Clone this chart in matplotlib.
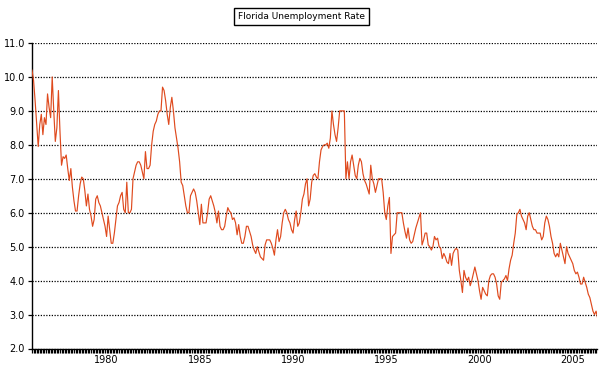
import numpy as np
import matplotlib
matplotlib.use("Agg")
import matplotlib.pyplot as plt
from matplotlib.ticker import MultipleLocator, FixedLocator

# monthly Florida unemployment rate (%), Jan 1976 - May 2006
rate_1976 = [10.2, 9.9, 9.3, 8.6, 7.95, 8.6, 8.9, 8.3, 8.8, 8.6, 9.5, 9.1]
rate_1977 = [8.8, 10.0, 9.0, 8.1, 8.5, 9.6, 8.4, 7.4, 7.65, 7.6, 7.7, 7.3]
rate_1978 = [6.95, 7.3, 6.75, 6.35, 6.05, 6.05, 6.5, 6.85, 7.05, 7.0, 6.65, 6.2]
rate_1979 = [6.55, 6.1, 5.9, 5.6, 5.8, 6.4, 6.5, 6.3, 6.2, 6.0, 5.8, 5.6]
rate_1980 = [5.3, 5.9, 5.5, 5.1, 5.1, 5.4, 5.8, 6.2, 6.3, 6.5, 6.6, 6.1]
rate_1981 = [6.0, 6.9, 6.0, 6.0, 6.1, 7.0, 7.2, 7.4, 7.5, 7.5, 7.4, 7.2]
rate_1982 = [7.0, 7.8, 7.3, 7.3, 7.4, 8.0, 8.4, 8.6, 8.7, 8.9, 9.0, 9.0]
rate_1983 = [9.7, 9.6, 9.3, 8.9, 8.6, 9.1, 9.4, 9.0, 8.5, 8.2, 7.9, 7.5]
rate_1984 = [6.9, 6.8, 6.5, 6.2, 6.0, 6.0, 6.5, 6.6, 6.7, 6.6, 6.35, 6.0]
rate_1985 = [5.65, 6.25, 5.7, 5.7, 5.7, 6.0, 6.4, 6.5, 6.35, 6.2, 6.0, 5.7]
rate_1986 = [6.05, 5.6, 5.5, 5.5, 5.6, 5.9, 6.15, 6.05, 6.0, 5.8, 5.85, 5.7]
rate_1987 = [5.35, 5.65, 5.3, 5.1, 5.1, 5.3, 5.6, 5.6, 5.45, 5.3, 5.05, 4.9]
rate_1988 = [4.8, 5.0, 4.85, 4.7, 4.65, 4.6, 5.05, 5.2, 5.2, 5.2, 5.1, 4.95]
rate_1989 = [4.75, 5.2, 5.5, 5.15, 5.3, 5.7, 6.0, 6.1, 6.0, 5.8, 5.7, 5.5]
rate_1990 = [5.4, 5.8, 6.05, 5.6, 5.7, 6.0, 6.4, 6.55, 6.85, 7.0, 6.2, 6.4]
rate_1991 = [6.9, 7.1, 7.15, 7.05, 7.0, 7.5, 7.85, 7.95, 8.0, 8.0, 8.05, 7.9]
rate_1992 = [8.2, 9.0, 8.6, 8.3, 8.1, 8.5, 9.0, 9.0, 9.0, 9.0, 7.0, 7.5]
rate_1993 = [7.0, 7.5, 7.7, 7.4, 7.1, 7.0, 7.4, 7.6, 7.5, 7.15, 6.95, 6.85]
rate_1994 = [6.7, 6.55, 7.4, 7.0, 6.85, 6.6, 6.8, 7.0, 7.0, 7.0, 6.6, 6.0]
rate_1995 = [5.8, 6.2, 6.45, 4.8, 5.3, 5.35, 5.4, 6.0, 6.0, 6.0, 6.0, 5.7]
rate_1996 = [5.45, 5.25, 5.55, 5.2, 5.1, 5.15, 5.35, 5.55, 5.7, 5.85, 6.0, 5.05]
rate_1997 = [5.2, 5.4, 5.4, 5.05, 5.0, 4.9, 5.0, 5.3, 5.2, 5.25, 5.0, 4.95]
rate_1998 = [4.65, 4.8, 4.7, 4.55, 4.5, 4.8, 4.45, 4.8, 4.9, 4.95, 4.9, 4.3]
rate_1999 = [4.0, 3.65, 4.3, 4.1, 4.0, 4.1, 3.85, 4.0, 4.2, 4.4, 4.2, 4.0]
rate_2000 = [3.7, 3.45, 3.8, 3.7, 3.6, 3.55, 4.0, 4.15, 4.2, 4.2, 4.1, 3.9]
rate_2001 = [3.55, 3.45, 3.95, 4.0, 4.05, 4.15, 4.0, 4.35, 4.6, 4.75, 5.1, 5.4]
rate_2002 = [5.95, 6.0, 6.1, 5.9, 5.8, 5.7, 5.5, 5.9, 6.0, 5.8, 5.6, 5.5]
rate_2003 = [5.5, 5.4, 5.4, 5.4, 5.2, 5.3, 5.7, 5.9, 5.8, 5.6, 5.3, 5.1]
rate_2004 = [4.8, 4.7, 4.8, 4.7, 5.1, 4.9, 4.7, 4.5, 5.0, 4.8, 4.7, 4.6]
rate_2005 = [4.5, 4.3, 4.2, 4.25, 4.1, 3.9, 3.9, 4.1, 3.95, 3.8, 3.6, 3.5]
rate_2006 = [3.3, 3.1, 3.0, 3.1, 2.9]

start_year = 1976
year_labels = [1980, 1985, 1990, 1995, 2000, 2005]
y_ticks = [2.0, 3.0, 4.0, 5.0, 6.0, 7.0, 8.0, 9.0, 10.0, 11.0]

rates = (rate_1976 + rate_1977 + rate_1978 + rate_1979 + rate_1980 + rate_1981
         + rate_1982 + rate_1983 + rate_1984 + rate_1985 + rate_1986 + rate_1987
         + rate_1988 + rate_1989 + rate_1990 + rate_1991 + rate_1992 + rate_1993
         + rate_1994 + rate_1995 + rate_1996 + rate_1997 + rate_1998 + rate_1999
         + rate_2000 + rate_2001 + rate_2002 + rate_2003 + rate_2004 + rate_2005
         + rate_2006)
t = start_year + np.arange(len(rates)) / 12.0

fig = plt.figure(figsize=(6.04, 3.67), dpi=100)
ax = fig.add_axes([32/604, 1 - 348.5/367, 565/604, 305.5/367])

ax.plot(t, rates, color="#df4a1e", lw=0.85, zorder=3)

ax.set_xlim(1976, 2006.3)
ax.set_ylim(2.0, 11.0)
ax.set_yticks(y_ticks)
ax.set_yticklabels(["%.1f" % v for v in y_ticks])
ax.xaxis.set_major_locator(FixedLocator(year_labels))
ax.xaxis.set_minor_locator(MultipleLocator(1/12))
ax.set_xticklabels([str(y) for y in year_labels])

ax.grid(axis="y", color="black", linestyle=(0, (1, 1.2)), lw=0.9, zorder=1)
ax.set_axisbelow(True)
for s in ["top", "right"]:
    ax.spines[s].set_visible(False)
for s in ["left", "bottom"]:
    ax.spines[s].set_linewidth(1.0)

ax.tick_params(axis="x", which="both", direction="out", length=3, width=0.9,
               labelsize=7, pad=2)
ax.tick_params(axis="y", direction="out", length=3, width=0.9, labelsize=7, pad=2)

fig.text(0.499, 0.955, "Florida Unemployment Rate", ha="center", va="center",
         fontsize=6.5,
         bbox=dict(boxstyle="square,pad=0.45", fc="white", ec="black", lw=1))

fig.savefig("out.png", dpi=100)
